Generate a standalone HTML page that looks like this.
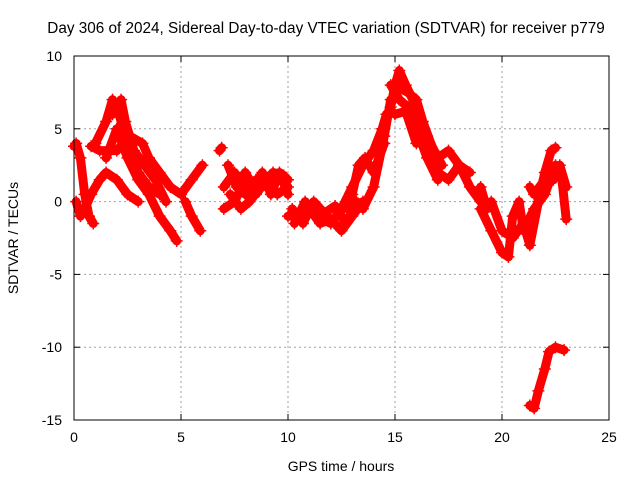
<!DOCTYPE html>
<html><head><meta charset="utf-8"><style>
body{margin:0;background:#fff}
svg{display:block;font-family:"Liberation Sans",sans-serif}
</style></head><body>
<svg id="chart" width="640" height="480">
<text x="326" y="33" font-size="15.3" text-anchor="middle">Day 306 of 2024, Sidereal Day-to-day VTEC variation (SDTVAR) for receiver p779</text>
<text x="341" y="471" font-size="14" text-anchor="middle">GPS time / hours</text>
<text transform="translate(18,238) rotate(-90)" font-size="14" text-anchor="middle">SDTVAR / TECUs</text>
<g id="grid"></g><g id="ticks"></g><g id="series"></g>
<rect x="74" y="56" width="535" height="364" fill="none" stroke="#000"/>
</svg>
<script>
const xTicks=[0,5,10,15,20,25];
const yTicks=[10,5,0,-5,-10,-15];
const track1=[[0,3.8],[0.1,4],[0.3,3],[0.5,0.5],[0.7,-1],[0.9,-1.5]];
const track2=[[0.1,0],[0.3,-1],[0.5,-0.5],[0.8,0.5],[1.2,1.5],[1.5,2],[2,1.5],[2.5,0.5],[3,0]];
const track3=[[1,4],[1.5,5.5],[1.8,7],[2.1,6],[2.5,4],[3,2],[3.5,1],[4,0.5]];
const track4=[[1.5,3],[2,5],[2.5,3],[3,1.5],[3.5,0.5],[4,-1],[4.5,-2],[4.8,-2.7]];
const track5=[[0.8,3.8],[1.2,3.5],[2,3.5],[2.6,4.5],[3.2,4],[3.5,3],[4,2],[4.5,1],[5,0.5],[5.5,1.5],[6,2.5]];
const track6=[[5.2,0],[5.5,-1],[5.9,-2]];
const track7=[[6.8,3.5],[6.9,3.7]];
const track8=[[7,1],[7.5,2],[8,0.5],[8.5,1.5],[9,1],[9.5,1.5],[10,1.5]];
const track9=[[7,-0.5],[7.5,0],[8,1.5],[8.5,0.5],[9,1.5],[9.5,0.5],[10,1]];
const track10=[[10,-1],[10.5,-1],[11,-0.5],[11.5,-1.5],[12,-1.2],[12.5,-2],[13,-1],[13.5,0]];
const track11=[[10.3,-1.5],[10.8,0],[11.3,-1],[12,-1.5],[12.5,-0.5],[13,1],[13.5,2.5],[14,3.5],[14.4,5],[14.6,6]];
const track12=[[12.6,-0.5],[13,0.5],[13.3,2.5],[13.6,3],[14,2],[14.5,4]];
const track13=[[13.5,-0.5],[14,1],[14.5,4.5],[14.8,7]];
const track14=[[14.8,6.5],[15,8],[15.2,9],[15.5,8],[16,6.5],[16.5,4],[17,2],[17.5,1.5],[18,2.5],[18.5,2]];
const track15=[[14.8,8],[15.2,7],[15.6,6.5],[16,5],[16.5,3],[17,1.5]];
const track16=[[15,6],[15.5,6.2],[16,4],[16.2,5],[16.5,4.5],[17,3],[17.5,3.5],[18,2.5],[18.5,1],[19,0]];
const track17=[[19,1],[19.3,-0.5],[19.5,0],[20,-2],[20.5,-2.5],[21,-1.5],[21.3,-3],[21.7,0],[22,2],[22.3,3.5],[22.5,3.7]];
const track18=[[19,-0.5],[19.5,-2],[20,-3.5],[20.3,-3.8],[20.5,-1],[20.8,0],[21,-2],[21.5,-0.5],[22,0.5],[22.5,2.5],[22.8,1.5],[23,-1.2]];
const track19=[[21.3,1],[21.5,0.5],[22,1.5],[22.4,1.5],[22.7,2.5],[23,1]];
const track20=[[21.3,-14],[21.5,-14.2],[21.7,-13],[22,-11.5],[22.2,-10.3],[22.5,-10],[22.9,-10.2]];
const track21=[[7.2,2.5],[7.6,1],[8,2],[8.4,1],[8.8,2],[9.2,0.5],[9.6,2],[10,0.5]];
const track22=[[7.3,0.5],[7.8,-0.5],[8.2,0],[8.7,1],[9.3,2],[9.8,1.8]];
const track23=[[10.2,-0.5],[10.7,-1.5],[11.2,0],[11.7,-0.8],[12.2,-0.3],[12.7,-1.5],[13.2,0]];
const track24=[[1.8,6],[2.2,7],[2.4,5.5],[2.8,3.5],[3.3,2.5],[3.8,1.5],[4.3,0]];
const track25=[[15.2,7.8],[15.6,7.5],[16,7],[16.3,5.5],[16.8,3.5],[17.2,2.5]];
const tracks=[track1,track2,track3,track4,track5,track6,track7,track8,track9,track10,track11,track12,track13,track14,track15,track16,track17,track18,track19,track20,track21,track22,track23,track24,track25];

const NS="http://www.w3.org/2000/svg";
const X=v=>74+v*(535/25);
const Y=v=>56+(10-v)*(364/25);
function mk(t,a,p){const e=document.createElementNS(NS,t);for(const k in a)e.setAttribute(k,a[k]);p.appendChild(e);return e;}
const grid=document.getElementById('grid'),ticks=document.getElementById('ticks'),ser=document.getElementById('series');
xTicks.forEach(t=>{
  if(t>0&&t<25){const g=mk('line',{x1:X(t),x2:X(t),y1:56,y2:420,stroke:'#a0a0a0','stroke-dasharray':'2,3'},grid);
  
  }
  mk('line',{x1:X(t),x2:X(t),y1:420,y2:414,stroke:'#000'},ticks);
  mk('line',{x1:X(t),x2:X(t),y1:56,y2:62,stroke:'#000'},ticks);
  const l=mk('text',{x:X(t),y:442,'font-size':14,'text-anchor':'middle'},ticks);l.textContent=t;
  
  
});
yTicks.forEach(t=>{
  if(t>-15&&t<10){const g=mk('line',{x1:74,x2:609,y1:Y(t),y2:Y(t),stroke:'#a0a0a0','stroke-dasharray':'2,3'},grid);
  
  }
  mk('line',{x1:74,x2:80,y1:Y(t),y2:Y(t),stroke:'#000'},ticks);
  mk('line',{x1:603,x2:609,y1:Y(t),y2:Y(t),stroke:'#000'},ticks);
  const l=mk('text',{x:62,y:Y(t)+5,'font-size':14,'text-anchor':'end'},ticks);l.textContent=t;
  
  
});
tracks.forEach(tr=>{
  const pl=mk('polyline',{points:tr.map(p=>X(p[0])+','+Y(p[1])).join(' '),fill:'none',stroke:'#ff0000','stroke-width':9,'stroke-linejoin':'round','stroke-linecap':'round'},ser);
  
  
  tr.forEach(p=>{
    const m=mk('path',{d:`M${X(p[0])-6},${Y(p[1])}h12M${X(p[0])},${Y(p[1])-6}v12`,stroke:'#ff0000','stroke-width':1.5},ser);
    
    
  });
});
</script>
</body></html>
